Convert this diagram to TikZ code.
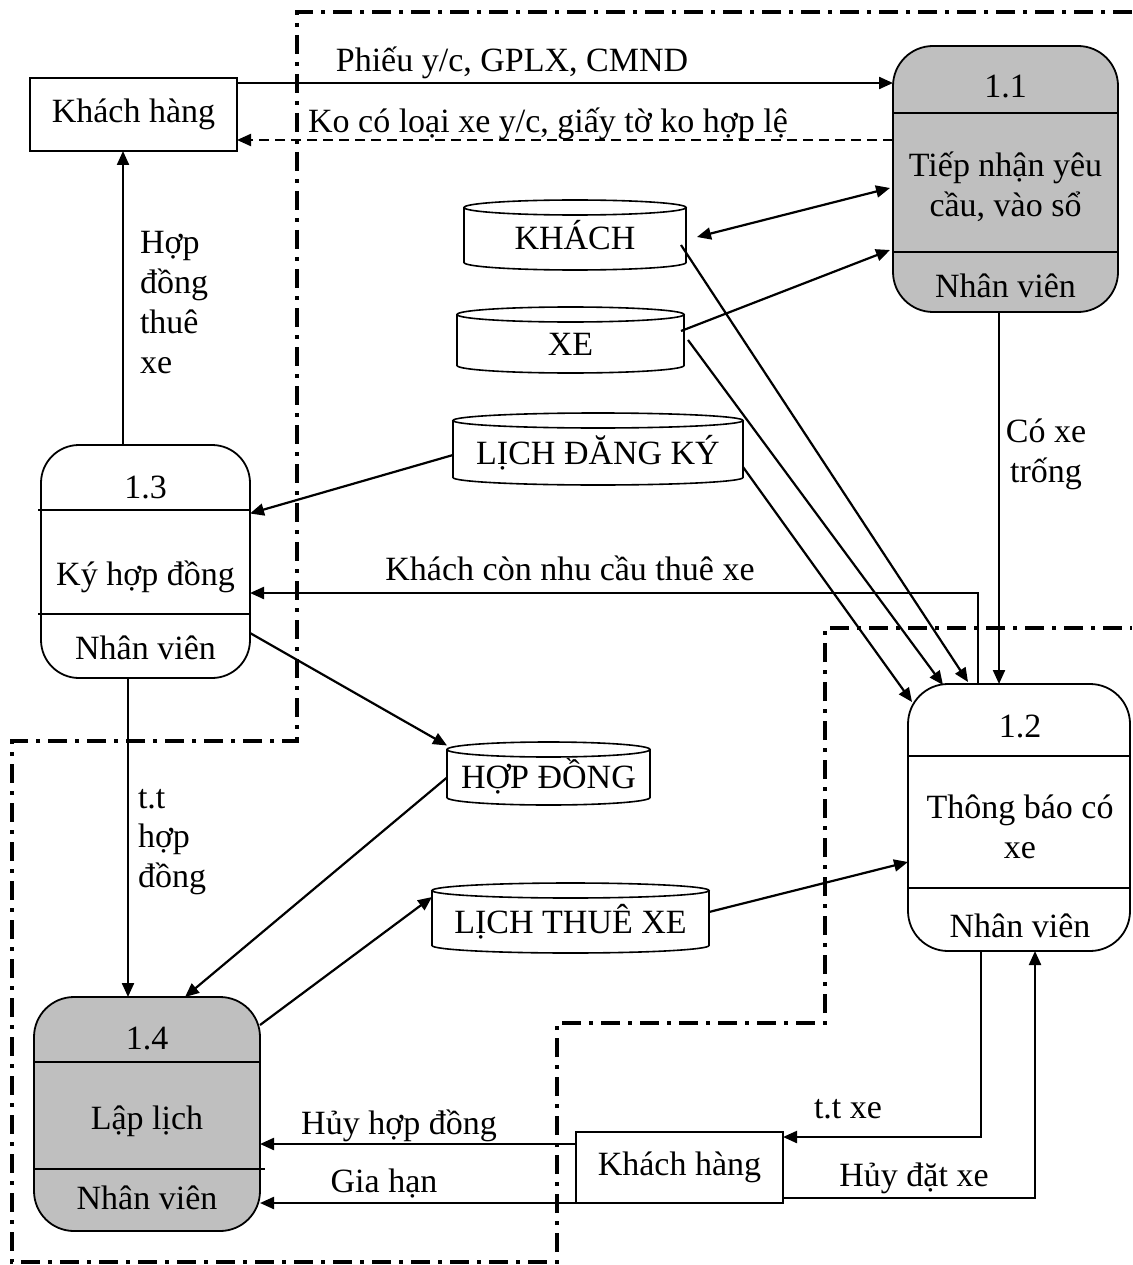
\documentclass[tikz,border=0pt]{standalone}
\usepackage{fontspec}
\setmainfont{Liberation Serif}
\usetikzlibrary{arrows.meta}

% outline of a data store drawn around a plain rectangular node
\newcommand\drumoutline[2]{%
  \draw[line width=1.6pt] ([yshift=-7.5pt]#1.north west) -- ([yshift=7.5pt]#1.south west)
     arc[start angle=180, end angle=360, x radius=#2, y radius=7.5pt]
     -- ([yshift=-7.5pt]#1.north east);
  \draw[line width=1.6pt] ([yshift=-7.5pt]#1.north) ellipse[x radius=#2, y radius=7.5pt];
}

\begin{document}
\begin{tikzpicture}[x=1pt,y=-1pt,
  every node/.style={font=\fontsize{34}{40}\selectfont, inner sep=0pt, outer sep=0pt},
  entity/.style={draw, rectangle, line width=1.6pt},
  proc/.style={draw, rectangle, rounded corners=40pt, line width=1.8pt},
  store/.style={rectangle, text height=30pt, text depth=0pt},
  lbl/.style={anchor=base},
  lblw/.style={anchor=base west},
  divider/.style={line width=1.6pt},
  flow/.style={line width=2.2pt, -{Triangle[length=14pt,width=12pt]}},
  bflow/.style={line width=2.2pt, {Triangle[length=14pt,width=12pt]}-{Triangle[length=14pt,width=12pt]}},
  reject/.style={flow, dash pattern=on 10pt off 6pt},
  bound/.style={line width=4pt, dash pattern=on 19pt off 8pt on 4pt off 8pt}]

\useasboundingbox (0,0) rectangle (1132,1265);

% system boundary
\draw[bound] (1132,12) -- (297,12) -- (297,741) -- (12,741) -- (12,1262)
  -- (557,1262) -- (557,1023) -- (825,1023) -- (825,628) -- (1132,628);

% external entities
\node[entity, minimum width=207pt, minimum height=73pt] (kh1) at (133.5,114.5) {Khách hàng};
\node[entity, minimum width=207pt, minimum height=71pt] (kh2) at (679.5,1167.5) {Khách hàng};

% processes
\node[proc, fill=gray!50, minimum width=225pt, minimum height=266pt] (p11) at (1005.5,179) {};
\node[proc, minimum width=222pt, minimum height=267pt] (p12) at (1019,817.5) {};
\node[proc, rounded corners=38pt, minimum width=209pt, minimum height=233pt] (p13) at (145.5,561.5) {};
\node[proc, fill=gray!50, minimum width=226pt, minimum height=234pt] (p14) at (147,1114) {};

\draw[divider] (p11.west |- 0,113) -- (p11.east |- 0,113);
\draw[divider] (p11.west |- 0,252) -- (p11.east |- 0,252);
\draw[divider] (p12.west |- 0,756) -- (p12.east |- 0,756);
\draw[divider] (p12.west |- 0,888) -- (p12.east |- 0,888);
\draw[divider] (38,510) -- (p13.east |- 0,510);
\draw[divider] (38,614) -- (p13.east |- 0,614);
\draw[divider] (p14.west |- 0,1062) -- (p14.east |- 0,1062);
\draw[divider] (p14.west |- 0,1169) -- (265,1169);

\node[lbl] (p11n) at (1005.5,98) {1.1};
\node[lbl] (p11a) at (1005.5,177) {Tiếp nhận yêu};
\node[lbl] (p11b) at (1005.5,217) {cầu, vào sổ};
\node[lbl] (p11r) at (1005.5,297) {Nhân viên};

\node[lbl] (p12n) at (1020,737) {1.2};
\node[lbl] (p12a) at (1020,818) {Thông báo có};
\node[lbl] (p12b) at (1020,858) {xe};
\node[lbl] (p12r) at (1020,937) {Nhân viên};

\node[lbl] (p13n) at (145.5,498) {1.3};
\node[lbl] (p13a) at (145.5,585) {Ký hợp đồng};
\node[lbl] (p13r) at (145.5,659) {Nhân viên};

\node[lbl] (p14n) at (147,1049) {1.4};
\node[lbl] (p14a) at (147,1129) {Lập lịch};
\node[lbl] (p14r) at (147,1209) {Nhân viên};

% data stores
\node[store, minimum width=222pt, minimum height=70pt] (sKhach) at (575,235) {KHÁCH};
\drumoutline{sKhach}{111pt}
\node[store, minimum width=227pt, minimum height=66pt] (sXe) at (570.5,340) {XE};
\drumoutline{sXe}{113.5pt}
\node[store, minimum width=290pt, minimum height=72pt] (sLdk) at (598,449) {LỊCH ĐĂNG KÝ};
\drumoutline{sLdk}{145pt}
\node[store, minimum width=203pt, minimum height=63pt] (sHd) at (548.5,773.5) {HỢP ĐỒNG};
\drumoutline{sHd}{101.5pt}
\node[store, minimum width=277pt, minimum height=70pt] (sLtx) at (570.5,918) {LỊCH THUÊ XE};
\drumoutline{sLtx}{138.5pt}

% flows around 1.1
\coordinate (f1) at ([yshift=31.5pt]kh1.east);
\coordinate (f2) at ([yshift=-25.5pt]kh1.east);
\draw[flow] (f1) -- (f1 -| p11.west);
\draw[reject] (f2 -| p11.west) -- (f2);
\node[lbl] (t1) at (512,72) {Phiếu y/c, GPLX, CMND};
\node[lbl] (t2) at (548,133) {Ko có loại xe y/c, giấy tờ ko hợp lệ};

\draw[bflow] ([shift={(11pt,-2pt)}]sKhach.east) -- ([shift={(-3pt,-9pt)}]p11.west);
\draw[flow] ([shift={(-3pt,9pt)}]sXe.east) -- ([shift={(-3pt,-71pt)}]p11.west);

\coordinate (c1) at ([xshift=-6.5pt]p11.south);
\draw[flow] (c1) -- (c1 |- p12.north);
\node[lbl] (t3) at (1046,442) {Có xe};
\node[lbl] (t4) at (1046,482) {trống};

% flows into 1.2
\draw[flow] ([shift={(-5pt,-10pt)}]sKhach.east) -- ([shift={(-51pt,2pt)}]p12.north);
\draw[flow] ([xshift=4pt]sXe.east) -- ([shift={(-76pt,-1pt)}]p12.north);
\draw[flow] ([yshift=-18pt]sLdk.east) -- ([shift={(-107pt,-18pt)}]p12.north);
\draw[flow] ([yshift=6pt]sLtx.east) -- ([yshift=-44.5pt]p12.west);

% flows around 1.3
\draw[flow] ([xshift=-22.5pt]p13.north) -- ([xshift=-10.5pt]kh1.south);
\node[lblw] (t5) at (140,253) {Hợp};
\node[lblw] (t6) at (140,293) {đồng};
\node[lblw] (t7) at (140,333) {thuê};
\node[lblw] (t8) at (140,373) {xe};

\draw[flow] ([yshift=-6pt]sLdk.west) -- ([yshift=48pt]p13.east);
\draw[flow] ([xshift=-41pt]p12.north) |- ([yshift=-31.5pt]p13.east);
\node[lbl] (t9) at (570,580) {Khách còn nhu cầu thuê xe};

\draw[flow] ([yshift=-71.5pt]p13.east) -- ([yshift=28pt]sHd.west);
\draw[flow] ([xshift=-17.5pt]p13.south) -- ([xshift=-19pt]p14.north);
\node[lblw] (t10) at (138,808) {t.t};
\node[lblw] (t11) at (138,847) {hợp};
\node[lblw] (t12) at (138,887) {đồng};

% flows around 1.4
\draw[flow] ([yshift=-4pt]sHd.west) -- ([xshift=38pt]p14.north);
\draw[flow] ([yshift=89pt]p14.east) -- ([yshift=21pt]sLtx.west);

\coordinate (h1) at ([yshift=23.5pt]kh2.west);
\draw[flow] (h1) -- (p14.east |- h1);
\node[lbl] (t13) at (399,1134) {Hủy hợp đồng};
\draw[flow] (kh2.south west) -- (p14.east |- kh2.south west);
\node[lbl] (t14) at (384,1192) {Gia hạn};

% flows between 1.2 and the customer
\draw[flow] ([xshift=-38pt]p12.south) |- ([yshift=30.5pt]kh2.east);
\node[lbl] (t15) at (848,1118) {t.t xe};
\draw[flow] ([yshift=-30.5pt]kh2.east) -| ([xshift=16pt]p12.south);
\node[lbl] (t16) at (914,1186) {Hủy đặt xe};

\end{tikzpicture}
\end{document}
